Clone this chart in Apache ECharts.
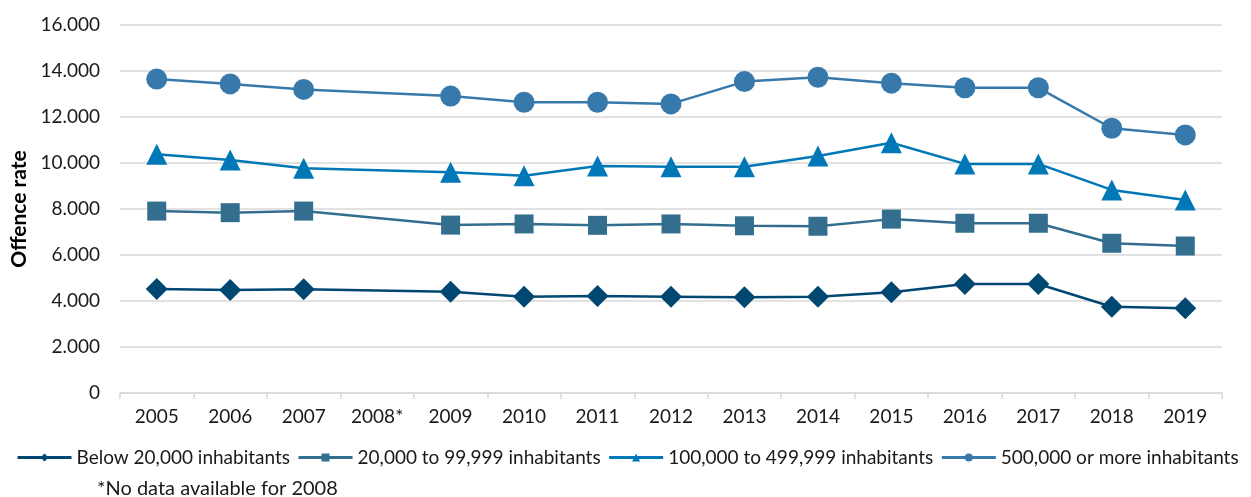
<!DOCTYPE html>
<html>
<head>
<meta charset="utf-8">
<script src="https://cdn.jsdelivr.net/npm/echarts@6/dist/echarts.min.js"></script>
<style>
  html, body { margin: 0; padding: 0; background: #fff; }
  #chart { width: 1251px; height: 497px; }
</style>
</head>
<body>
<div id="chart"></div>
<script>
  // years, 2008 has no data
  var years = ['2005', '2006', '2007', '2008*', '2009', '2010', '2011', '2012', '2013', '2014', '2015', '2016', '2017', '2018', '2019'];
  var below20k = [4520, 4480, 4510, null, 4400, 4190, 4220, 4190, 4160, 4190, 4380, 4740, 4740, 3750, 3680];
  var from20kTo99k = [7910, 7840, 7910, null, 7300, 7350, 7290, 7350, 7270, 7250, 7560, 7380, 7380, 6510, 6390];
  var from100kTo499k = [10380, 10130, 9770, null, 9600, 9450, 9870, 9840, 9840, 10300, 10880, 9960, 9960, 8830, 8390];
  var over500k = [13650, 13440, 13200, null, 12910, 12640, 12640, 12570, 13540, 13730, 13470, 13270, 13270, 11510, 11220];
  var seriesNames = ['Below 20,000 inhabitants', '20,000 to 99,999 inhabitants', '100,000 to 499,999 inhabitants', '500,000 or more inhabitants'];

  var chart = echarts.init(document.getElementById('chart'));
  var font = 'Lato, "Open Sans", sans-serif';

  function mk(name, data, color, symbol, size) {
    return {
      name: name,
      type: 'line',
      data: data,
      connectNulls: true,
      symbol: symbol,
      symbolSize: size,
      lineStyle: { color: color, width: 2.5 },
      itemStyle: { color: color },
      emphasis: { disabled: true }
    };
  }

  chart.setOption({
    animation: false,
    textStyle: { fontFamily: font },
    grid: { left: 120, right: 29, top: 25, bottom: 104 },
    legend: {
      bottom: 30,
      left: 16,
      right: 0,
      padding: 0,
      itemWidth: 54,
      itemHeight: 10,
      itemGap: 7,
      lineStyle: { width: 3 },
      textStyle: { fontSize: 19, color: '#1a1a1a', fontFamily: font },
      data: seriesNames
    },
    graphic: [{
      type: 'text',
      left: 97,
      top: 479,
      style: { text: '*No data available for 2008', fontSize: 20, fill: '#1a1a1a', fontFamily: font }
    }],
    xAxis: {
      type: 'category',
      data: years,
      boundaryGap: true,
      axisLine: { lineStyle: { color: '#d9d9d9', width: 1.5 } },
      axisTick: { show: true, lineStyle: { color: '#d9d9d9', width: 1.5 }, length: 6 },
      axisLabel: { fontSize: 19, color: '#1a1a1a', margin: 14 }
    },
    yAxis: {
      type: 'value',
      min: 0,
      max: 16000,
      interval: 2000,
      name: 'Offence rate',
      nameLocation: 'middle',
      nameGap: 89,
      nameTextStyle: { fontSize: 21, fontWeight: 'bold', color: '#000', fontFamily: font },
      axisLine: { show: false },
      axisTick: { show: false },
      splitLine: { lineStyle: { color: '#d9d9d9', width: 1.5 } },
      axisLabel: {
        fontSize: 19,
        color: '#1a1a1a',
        margin: 20,
        formatter: function (v) {
          return String(v).replace(/\B(?=(\d{3})+(?!\d))/g, '.');
        }
      }
    },
    series: [
      mk(seriesNames[0], below20k, '#004872', 'diamond', 22),
      mk(seriesNames[1], from20kTo99k, '#336e8f', 'rect', 19),
      mk(seriesNames[2], from100kTo499k, '#0078b8', 'triangle', 21),
      mk(seriesNames[3], over500k, '#3779ab', 'circle', 21)
    ]
  });
</script>
</body>
</html>
